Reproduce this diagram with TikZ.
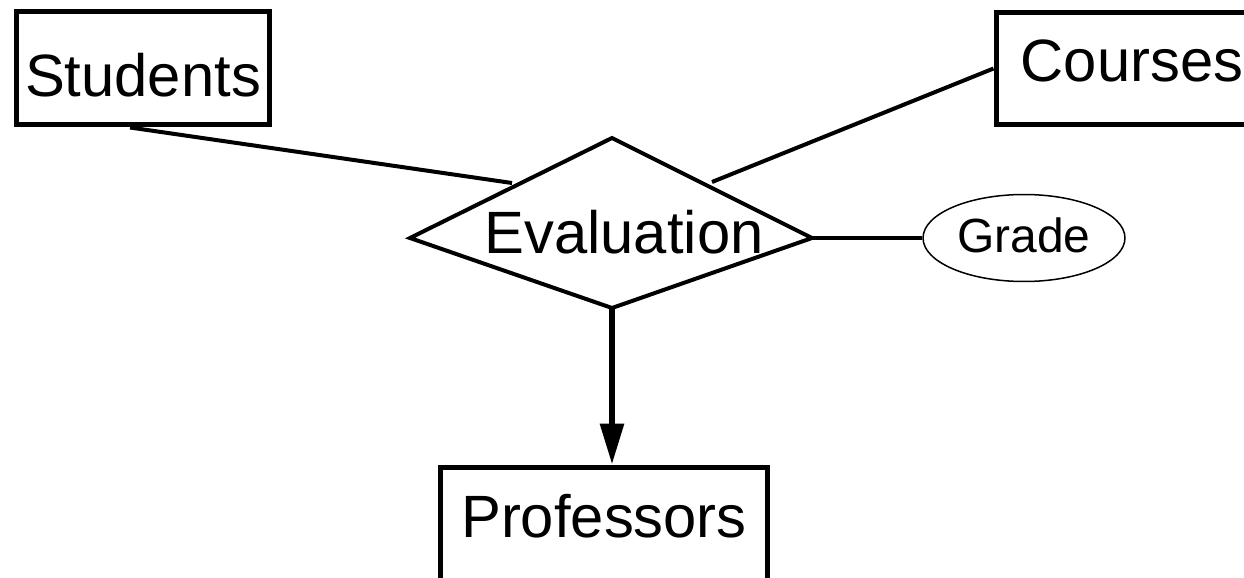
\documentclass[tikz,border=0pt]{standalone}
\usepackage{fontspec}
\setmainfont{Liberation Sans}
\usetikzlibrary{shapes.geometric, positioning, calc, arrows.meta}

\tikzset{
  entity/.style={draw, line width=0.1cm, inner sep=0pt, font=\fontsize{34}{40}\selectfont},
  reltext/.style={inner sep=0pt, font=\fontsize{34}{40}\selectfont},
  relation/.style={line width=0.08cm, line join=miter},
  attrib/.style={draw, ellipse, line width=0.03cm, inner sep=0pt, font=\fontsize{27.3}{32}\selectfont},
  link/.style={line width=0.08cm},
  keyarrow/.style={line width=0.12cm, -{Triangle[length=0.82cm, width=0.46cm]}}
}

\begin{document}
\begin{tikzpicture}[x=0.02cm, y=-0.02cm]
      \clip (0,0) rectangle (1244,578);
      \fill[white] (0,0) rectangle (1244,578);
      % entities
      \node[entity, minimum width=5.08cm, text height=1.72cm, text depth=0.56cm] (stud) at (143,68) {Students};
      \node[entity, minimum width=5.44cm, text height=1.39cm, text depth=0.85cm] (crs) at (1132,68.5) {Courses};
      \node[entity, minimum width=6.56cm, text height=1.4cm, text depth=1.2cm] (prof) at (604,532) {Professors};
      % relationship (kite drawn round its label) and attribute
      \node[reltext, anchor=base] (eval) at (624,253) {Evaluation};
      \coordinate (evW) at (410,238);
      \coordinate (evN) at (612,138);
      \coordinate (evE) at (812,238);
      \coordinate (evS) at (612,308);
      \draw[relation] (evW) -- (evN) -- (evE) -- (evS) -- cycle;
      \node[attrib, minimum width=4.04cm, minimum height=1.74cm, text height=0.66cm, text depth=0.1cm] (grade) at (1024,238) {Grade};

      \draw[link] ($(stud.south)+(-13,0)$) -- ($(evW)!0.5!(evN)+(1,-5)$);
      \draw[link] (crs.west) -- ($(evN)!0.5!(evE)+(0,-6)$);
      \draw[link] (evE) -- (grade.west);
      \draw[keyarrow] (evS) -- (evS |- prof.north);
    \end{tikzpicture}
\end{document}
